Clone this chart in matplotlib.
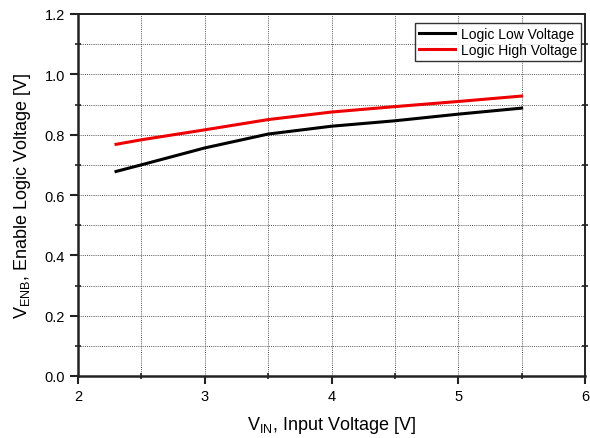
import matplotlib
matplotlib.use("Agg")
import matplotlib.pyplot as plt
from matplotlib.ticker import MultipleLocator

plt.rcParams['font.family'] = ['Liberation Sans', 'DejaVu Sans']
plt.rcParams['mathtext.fontset'] = 'custom'
plt.rcParams['mathtext.rm'] = 'Liberation Sans'

vin = [2.3, 2.5, 3.0, 3.5, 4.0, 4.5, 5.0, 5.5]
logic_low = [0.678, 0.700, 0.756, 0.802, 0.828, 0.846, 0.868, 0.888]
logic_high = [0.768, 0.783, 0.816, 0.850, 0.875, 0.893, 0.910, 0.928]
series_names = ["Logic Low Voltage", "Logic High Voltage"]

fig = plt.figure(figsize=(5.90, 4.39), dpi=100)
ax = fig.add_axes([78/590, 1 - 377/439, (585-78)/590, (377-15)/439])

ax.plot(vin, logic_low, color='black', lw=2.2, label=series_names[0])
ax.plot(vin, logic_high, color='#ee0000', lw=2.2, label=series_names[1])

ax.set_xlim(2, 6)
ax.set_ylim(0, 1.2)
ax.xaxis.set_major_locator(MultipleLocator(1))
ax.xaxis.set_minor_locator(MultipleLocator(0.5))
ax.yaxis.set_major_locator(MultipleLocator(0.2))
ax.yaxis.set_minor_locator(MultipleLocator(0.1))
ax.yaxis.set_major_formatter(matplotlib.ticker.FormatStrFormatter('%.1f'))

ax.grid(True, which='both', color='#555555', linestyle=(0, (1, 1.2)), linewidth=0.7)
ax.set_axisbelow(True)

ax.tick_params(which='major', direction='out', length=6, width=1.5, labelsize=10.5, colors='#222222', labelcolor='black')
ax.tick_params(which='minor', direction='inout', length=5, width=1.2, colors='#222222')
ax.tick_params(which='minor', right=True)

for s in ['left', 'bottom']:
    ax.spines[s].set_linewidth(1.8)
    ax.spines[s].set_color('#222222')
for s in ['top', 'right']:
    ax.spines[s].set_linewidth(1.4)
    ax.spines[s].set_color('#222222')

ax.set_xlabel(r"V$_{\mathregular{IN}}$, Input Voltage [V]", fontsize=13, labelpad=8)
ax.set_ylabel(r"V$_{\mathregular{ENB}}$, Enable Logic Voltage [V]", fontsize=13, labelpad=8)

leg = ax.legend(loc='upper right', bbox_to_anchor=(581/590, 1 - 24/439), bbox_transform=fig.transFigure,
                fontsize=10, frameon=True, fancybox=False,
                edgecolor='black', handlelength=2.6, handletextpad=0.4,
                labelspacing=0.15, borderpad=0.3, borderaxespad=0.0)
leg.get_frame().set_linewidth(1.0)

fig.savefig("out.png", dpi=100)
